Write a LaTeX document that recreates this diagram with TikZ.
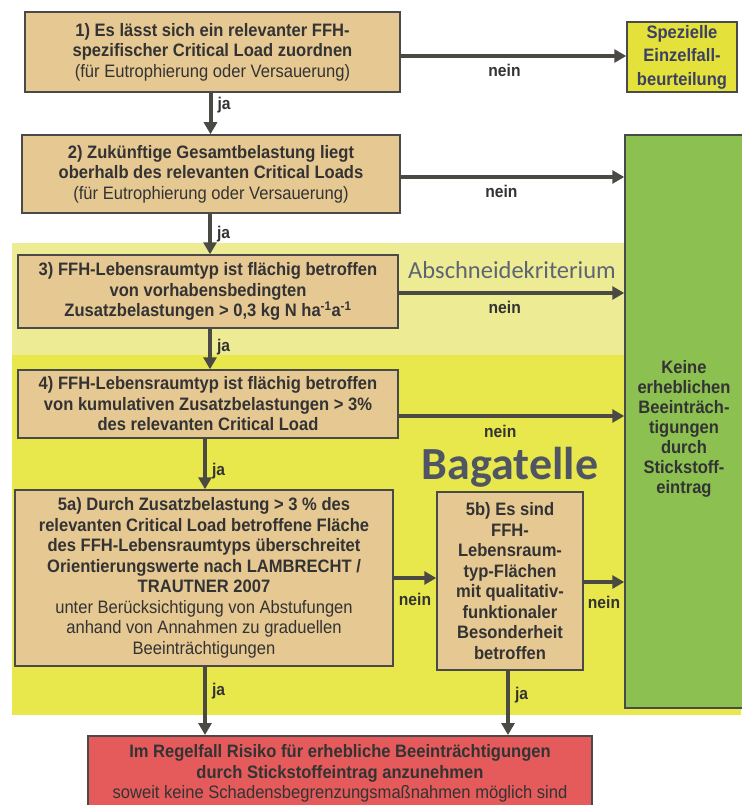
\documentclass[tikz,border=0pt]{standalone}
\usepackage{fontspec}
\setmainfont{Liberation Sans}[FakeStretch=0.92]
\newfontfamily\calfont{Carlito}
\usetikzlibrary{positioning, arrows.meta, calc}

\definecolor{ffink}{HTML}{333333}
\definecolor{ffrand}{HTML}{4A4A4A}
\definecolor{ffpfeil}{HTML}{4B4944}
\definecolor{fftan}{HTML}{E6C893}
\definecolor{ffgelb}{HTML}{E4E23A}
\definecolor{ffgruen}{HTML}{8CC152}
\definecolor{ffrot}{HTML}{E55B5B}
\definecolor{ffhell}{HTML}{EDEC94}
\definecolor{ffband}{HTML}{E8E84C}
\definecolor{ffgrau}{HTML}{5D6473}
\definecolor{ffblau}{HTML}{3C4064}

\begin{document}
\begin{tikzpicture}[x=1pt, y=-1pt,
    kasten/.style={draw=ffrand, line width=1.5pt, fill=fftan, align=center, text=ffink,
      inner sep=2pt, font=\fontsize{18}{20.5}\selectfont\bfseries},
    pfeil/.style={draw=ffpfeil, line width=4pt, -{Triangle[length=12pt, width=13pt]}},
    lbl/.style={text=ffink, font=\fontsize{17}{19}\selectfont\bfseries, inner sep=0pt}]
  \useasboundingbox (0,0) rectangle (741,805);
  % Hintergrund
  \fill[ffhell] (12,243) rectangle (741,355);
  \fill[ffband] (12,355) rectangle (741,715);
  \node[text=ffgrau, font=\calfont\fontsize{24.5}{28}\selectfont] (abs) at (512,270) {Abschneidekriterium};
  \node[text=ffgrau!85!black, inner sep=0pt, font=\calfont\fontsize{46}{50}\selectfont\bfseries] (bag) at (510,467) {Bagatelle};

  % Kaesten
  \node[kasten, minimum width=375, minimum height=80] (b1) at (212.5,52)
    {1) Es lässt sich ein relevanter FFH-\\spezifischer Critical Load zuordnen\\\textmd{(für Eutrophierung oder Versauerung)}};
  \node[kasten, fill=ffgelb, text=ffblau, minimum width=110, minimum height=70,
    font=\fontsize{18}{23.5}\selectfont\bfseries] (sp) at (682,57)
    {Spezielle\\Einzelfall-\\beurteilung};
  \node[kasten, minimum width=378, minimum height=78] (b2) at (211,174)
    {2) Zukünftige Gesamtbelastung liegt\\oberhalb des relevanten Critical Loads\\\textmd{(für Eutrophierung oder Versauerung)}};
  \node[kasten, fill=ffgruen, minimum width=118, minimum height=573] (gr) at (684,421.5) {};
  \node[align=center, text=ffink, font=\fontsize{18}{20}\selectfont\bfseries] (grtext) at ([yshift=-7pt]gr.center)
    {Keine\\erheblichen\\Beeinträch-\\tigungen\\durch\\Stickstoff-\\eintrag};
  \node[kasten, minimum width=380, minimum height=73] (b3) at (208,291.5)
    {3) FFH-Lebensraumtyp ist flächig betroffen\\von vorhabensbedingten\\Zusatzbelastungen > 0,3 kg N ha\textsuperscript{-1}a\textsuperscript{-1}};
  \node[kasten, minimum width=380, minimum height=68] (b4) at (208,404)
    {4) FFH-Lebensraumtyp ist flächig betroffen\\von kumulativen Zusatzbelastungen > 3\%\\des relevanten Critical Load};
  \node[kasten, minimum width=378, minimum height=176] (b5a) at (204,578)
    {5a) Durch Zusatzbelastung > 3 \% des\\relevanten Critical Load betroffene Fläche\\des FFH-Lebensraumtyps überschreitet\\Orientierungswerte nach LAMBRECHT /\\TRAUTNER 2007\\\textmd{unter Berücksichtigung von Abstufungen}\\\textmd{anhand von Annahmen zu graduellen}\\\textmd{Beeinträchtigungen}};
  \node[kasten, minimum width=146, minimum height=178] (b5b) at (510,581)
    {5b) Es sind\\FFH-\\Lebensraum-\\typ-Flächen\\mit qualitativ-\\funktionaler\\Besonderheit\\betroffen};
  \node[kasten, fill=ffrot, minimum width=504, inner ysep=9pt, anchor=north] (rot) at (340,735)
    {Im Regelfall Risiko für erhebliche Beeinträchtigungen\\durch Stickstoffeintrag anzunehmen\\\textmd{soweit keine Schadensbegrenzungsmaßnahmen möglich sind}};

  % nein
  \draw[pfeil] ([yshift=-4pt]b1.east) -- ([yshift=-4pt]b1.east -| sp.west)
    node[lbl, pos=0.46, below=6pt] {nein};
  \draw[pfeil] ([yshift=-3pt]b2.east) -- ([yshift=-3pt]b2.east -| gr.west)
    node[lbl, pos=0.45, below=6pt] {nein};
  \draw[pfeil] ([yshift=-1.5pt]b3.east) -- ([yshift=-1.5pt]b3.east -| gr.west)
    node[lbl, pos=0.47, below=6pt] {nein};
  \draw[pfeil] ([yshift=-12pt]b4.east) -- ([yshift=-12pt]b4.east -| gr.west)
    node[lbl, pos=0.45, below=7pt] {nein};
  \draw[pfeil] (b5a.east) -- (b5a.east -| b5b.west)
    node[lbl, pos=0.5, below=13pt] {nein};
  \draw[pfeil] ([yshift=-1pt]b5b.east) -- ([yshift=-1pt]b5b.east -| gr.west)
    node[lbl, pos=0.5, below=12pt] {nein};

  % ja
  \draw[pfeil] ([xshift=-2pt]b1.south) -- ([xshift=-2pt]b1.south |- b2.north)
    node[lbl, pos=0.3, right=5pt] {ja};
  \draw[pfeil] ([xshift=-1pt]b2.south) -- ([xshift=-1pt]b2.south |- b3.north)
    node[lbl, pos=0.5, right=5pt] {ja};
  \draw[pfeil] ([xshift=2pt]b3.south) -- ([xshift=2pt]b3.south |- b4.north)
    node[lbl, pos=0.45, right=5pt] {ja};
  \draw[pfeil] ([xshift=-3pt]b4.south) -- ([xshift=-3pt]b4.south |- b5a.north)
    node[lbl, pos=0.65, right=5pt] {ja};
  \draw[pfeil] ([xshift=1pt]b5a.south) -- ([xshift=1pt]b5a.south |- rot.north)
    node[lbl, pos=0.36, right=5pt] {ja};
  \draw[pfeil] ([xshift=-2pt]b5b.south) -- ([xshift=-2pt]b5b.south |- rot.north)
    node[lbl, pos=0.38, right=5pt] {ja};
\end{tikzpicture}
\end{document}
